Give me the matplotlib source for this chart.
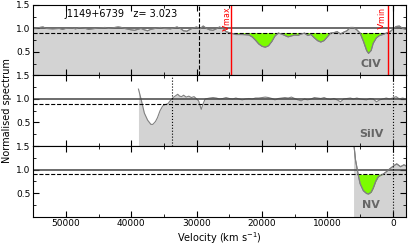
import numpy as np
import matplotlib
matplotlib.use('Agg')
import matplotlib.pyplot as plt
from matplotlib.ticker import MultipleLocator

# CIV panel
v_civ = [55000, 54000, 53500, 53000, 52000, 51000, 50500, 50000, 49000, 48500, 48000, 47000,
         46500, 46000, 45000, 44000, 43500, 43000, 42000, 41500, 41000, 40000, 39500, 39000,
         38500, 38000, 37500, 37000, 36000, 35500, 35000, 34000, 33500, 33000, 32500, 32000,
         31500, 31000, 30500, 30000, 29500, 29000, 28500, 28000, 27500, 27000, 26500, 26000,
         25500, 25000, 24500, 24000, 23000, 22000, 21500, 21000, 20500, 20000, 19500, 19000,
         18500, 18000, 17500, 17000, 16500, 16000, 15500, 15000, 14500, 14000, 13500, 13000,
         12500, 12000, 11500, 11000, 10500, 10000, 9500, 9000, 8500, 8000, 7500, 7000, 6500,
         6000, 5500, 5000, 4500, 4000, 3700, 3300, 3000, 2500, 2000, 1500, 1000, 500, 0,
         -500, -1000, -1500, -2000]
f_civ = [1.00, 1.02, 1.03, 1.00, 0.99, 1.00, 0.98, 1.00, 1.01, 0.99, 1.02, 1.00,
         0.98, 0.99, 1.01, 1.02, 1.00, 1.01, 1.03, 1.02, 1.00, 0.97, 0.96, 0.98,
         1.00, 0.97, 0.95, 0.98, 1.01, 1.02, 1.00, 0.99, 1.01, 1.03, 1.00, 0.95,
         0.94, 0.98, 1.01, 1.03, 0.99, 1.05, 1.00, 0.97, 0.96, 0.99, 1.03, 1.00,
         0.93, 0.91, 0.89, 0.87, 0.87, 0.86, 0.82, 0.75, 0.67, 0.62, 0.60, 0.63,
         0.72, 0.84, 0.90, 0.88, 0.85, 0.82, 0.84, 0.86, 0.85, 0.88, 0.90, 0.85,
         0.87, 0.80, 0.74, 0.71, 0.74, 0.82, 0.90, 0.91, 0.93, 0.88, 0.92, 0.95, 1.02,
         1.02, 0.97, 0.90, 0.73, 0.53, 0.47, 0.53, 0.68, 0.80, 0.85, 0.87, 0.90, 0.92, 0.98,
         1.04, 1.05, 1.00, 0.98]

# SiIV panel
v_si = [38900, 38600, 38300, 38000, 37500, 37000, 36700, 36300, 36000, 35600, 35200, 34800,
        34400, 34000, 33600, 33200, 32900, 32600, 32300, 32000, 31600, 31200, 30800, 30400,
        30000, 29700, 29300, 29000, 28700, 28000, 27500, 27000, 26500, 26000, 25500, 25000,
        24500, 24000, 23500, 23000, 22500, 22000, 21500, 21000, 20500, 20000, 19500, 19000,
        18500, 18000, 17500, 17000, 16500, 16000, 15500, 15000, 14500, 14000, 13500, 13000,
        12500, 12000, 11500, 11000, 10500, 10000, 9500, 9000, 8500, 8000, 7500, 7000, 6500,
        6000, 5500, 5000, 4500, 4000, 3500, 3000, 2500, 2000, 1500, 1000, 500, 0, -500,
        -1000, -1500, -2000]
f_si = [1.21, 1.05, 0.88, 0.70, 0.55, 0.46, 0.46, 0.52, 0.60, 0.75, 0.85, 0.88,
        0.90, 0.97, 1.03, 1.07, 1.10, 1.06, 1.05, 1.08, 1.04, 1.06, 1.03, 1.05,
        1.00, 0.96, 0.78, 0.90, 1.00, 1.02, 1.03, 1.02, 1.00, 1.01, 1.03, 1.01,
        1.00, 1.02, 1.00, 0.98, 1.00, 1.01, 1.00, 1.02, 1.02, 1.03, 1.04, 1.03,
        1.01, 0.98, 1.01, 1.02, 1.03, 1.02, 1.04, 1.01, 0.98, 0.96, 1.00, 0.98,
        1.00, 1.03, 1.02, 1.01, 1.03, 1.00, 0.99, 1.01, 0.98, 0.94, 1.00, 1.01, 1.02,
        1.00, 1.02, 1.00, 0.99, 0.98, 1.01, 1.00, 0.94, 0.98, 1.00, 1.02, 1.00, 1.02, 1.05,
        1.00, 1.02, 1.00]

# NV panel
v_nv = [6000, 5700, 5300, 5000, 4500, 4000, 3700, 3300, 3000, 2600, 2200, 1800, 1500,
        1000, 600, -150, -600, -1200, -1700, -2000]
f_nv = [1.60, 1.20, 0.90, 0.70, 0.55, 0.49, 0.48, 0.52, 0.60, 0.75, 0.85, 0.88, 0.90,
        0.95, 1.00, 1.08, 1.12, 1.06, 1.10, 1.08]

ions = ['CIV', 'SiIV', 'NV']
v_max = 24700
v_min = 800
grey_line = '#808080'
grey_fill = '#d3d3d3'
green = '#7cfc00'

fig, axs = plt.subplots(3, 1, figsize=(4.15, 2.45), dpi=100, sharex=True)
fig.subplots_adjust(left=0.08, right=0.978, top=0.98, bottom=0.116, hspace=0)

panels = [(v_civ, f_civ), (v_si, f_si), (v_nv, f_nv)]
for ax, (v, f), ion in zip(axs, panels, ions):
    v = np.array(v)
    f = np.array(f)
    ax.fill_between(v, 0, f, color=grey_fill, lw=0)
    ax.plot(v, f, color=grey_line, lw=0.8)
    ax.axhline(1.0, color='#444444', lw=1.1)
    ax.axhline(0.9, color='k', lw=0.8, ls='--')
    ax.set_ylim(0, 1.5)
    ax.set_xlim(55000, -2000)
    ax.set_yticks([0.5, 1.0, 1.5])
    ax.yaxis.set_minor_locator(MultipleLocator(0.25))
    ax.xaxis.set_major_locator(MultipleLocator(10000))
    ax.xaxis.set_minor_locator(MultipleLocator(5000))
    ax.tick_params(which='both', direction='in', top=True, right=True, labelsize=6.5,
                   pad=2)
    ax.tick_params(which='major', length=4)
    ax.tick_params(which='minor', length=2)
    ax.text(3300, 0.25, ion, color='#666666', fontsize=8, fontweight='bold',
            ha='center', va='center')

# CIV extras
v0, f0 = np.array(v_civ), np.array(f_civ)
mask = (f0 < 0.9) & (v0 <= v_max) & (v0 >= v_min) & ((v0 > 9000) | (v0 < 7000))
axs[0].fill_between(v0, f0, 0.9, where=mask, color=green, lw=0, interpolate=True)
axs[0].plot(v0, f0, color=grey_line, lw=0.8)
axs[0].axvline(29600, color='k', lw=0.8, ls='--')
axs[0].axvline(v_max, color='red', lw=1.0)
axs[0].axvline(v_min, color='red', lw=1.0)
axs[0].axvline(0, color='k', lw=0.8)
axs[0].text(v_max + 600, 1.46, r'$\mathrm{v_{max}}$', color='red', rotation=90,
            fontsize=8, ha='center', va='top')
axs[0].text(v_min + 900, 1.46, r'$\mathrm{v_{min}}$', color='red', rotation=90,
            fontsize=8, ha='center', va='top')
axs[0].text(50200, 1.30, 'J1149+6739   z= 3.023', fontsize=7, ha='left', va='center')

# SiIV extras
axs[1].axvline(33700, color='k', lw=0.8, ls=':')
axs[1].axvline(0, color='k', lw=0.8, ls=':')

# NV extras
v2, f2 = np.array(v_nv), np.array(f_nv)
mask2 = (f2 < 0.9) & (v2 <= 5300) & (v2 >= 1500)
axs[2].fill_between(v2, f2, 0.9, where=mask2, color=green, lw=0, interpolate=True)
axs[2].plot(v2, f2, color=grey_line, lw=0.8)
axs[2].axvline(0, color='k', lw=0.8, ls=':')

axs[2].set_xlabel(r'Velocity (km s$^{-1}$)', fontsize=7, labelpad=1)
fig.text(0.018, 0.547, 'Normalised spectrum', rotation=90, fontsize=7,
         ha='center', va='center')

fig.savefig('out.png', dpi=100)
